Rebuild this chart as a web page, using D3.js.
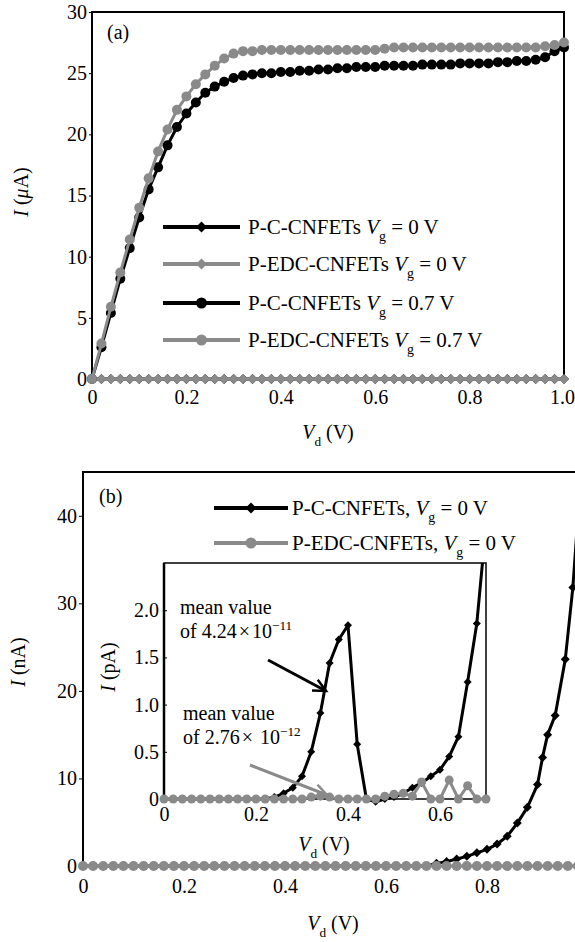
<!DOCTYPE html>
<html>
<head>
<meta charset="utf-8">
<script src="https://cdn.jsdelivr.net/npm/d3@7"></script>
<style>
  body { margin: 0; background: #fff; }
</style>
</head>
<body>
<div id="chart"></div>
<script>
let width = 575, height = 942;
const FONT = "'Liberation Serif','Times New Roman',serif";
const BLACK = "#000", GRAY = "#8a8a8a";

// ---------- data ----------
// panel (a): Vd grid 0..1.0 step 0.02
const aVd = d3.range(51).map(i => +(i * 0.02).toFixed(2));
const aC0 = [0,0,0,0,0,0,0,0,0,0,0,0,0,0,0,0,0,0,0,0,0,0,0,0,0,0,0,0,0,0,0,0,0,0,0,0,0,0,0,0,0,0,0,0,0,0,0,0,0,0,0];
const aE0 = [0,0,0,0,0,0,0,0,0,0,0,0,0,0,0,0,0,0,0,0,0,0,0,0,0,0,0,0,0,0,0,0,0,0,0,0,0,0,0,0,0,0,0,0,0,0,0,0,0,0,0];
const aC07 = [0, 2.6, 5.4, 8.2, 10.7, 13.2, 15.5, 17.3, 19.1, 20.6,
  21.7, 22.6, 23.4, 23.9, 24.3, 24.6, 24.8, 24.9, 25.0, 25.0,
  25.1, 25.1, 25.2, 25.2, 25.3, 25.3, 25.4, 25.4, 25.5, 25.5,
  25.5, 25.6, 25.6, 25.6, 25.6, 25.7, 25.7, 25.7, 25.7, 25.8,
  25.8, 25.8, 25.8, 25.9, 25.9, 26.0, 26.0, 26.1, 26.3, 26.8,
  27.1];
const aE07 = [0, 2.9, 5.9, 8.7, 11.4, 14.0, 16.4, 18.6, 20.4, 22.0,
  23.1, 24.1, 24.9, 25.6, 26.2, 26.6, 26.8, 26.8, 26.9, 26.9,
  26.9, 26.9, 26.9, 26.9, 26.9, 26.9, 26.9, 26.9, 26.9, 26.9,
  26.9, 27.0, 27.1, 27.1, 27.1, 27.1, 27.1, 27.1, 27.1, 27.1,
  27.1, 27.1, 27.1, 27.1, 27.1, 27.1, 27.1, 27.1, 27.2, 27.3,
  27.5];
const aXTicks = [0, 0.2, 0.4, 0.6, 0.8, 1.0];
const aYTicks = [0, 5, 10, 15, 20, 25, 30];
const aLegend = [
  {name: "P-C-CNFETs ", vg: "0 V", color: BLACK, shape: "diamond"},
  {name: "P-EDC-CNFETs ", vg: "0 V", color: GRAY, shape: "diamond"},
  {name: "P-C-CNFETs ", vg: "0.7 V", color: BLACK, shape: "circle"},
  {name: "P-EDC-CNFETs ", vg: "0.7 V", color: GRAY, shape: "circle"}
];

// panel (b): nA
const bVd = d3.range(50).map(i => +(i * 0.02).toFixed(2));
const bE0 = [0,0,0,0,0,0,0,0,0,0,0,0,0,0,0,0,0,0,0,0,0,0,0,0,0,0,0,0,0,0,0,0,0,0,0,0,0,0,0,0,0,0,0,0,0,0,0,0,0,0];
const bCVd = [0,0.02,0.04,0.06,0.08,0.10,0.12,0.14,0.16,0.18,0.20,0.22,0.24,0.26,0.28,0.30,0.32,0.34,
  0.36,0.38,0.40,0.42,0.44,0.46,0.48,0.50,0.52,0.54,0.56,0.58,0.60,0.62,0.64,0.66,0.68,
  0.70,0.72,0.74,0.76,0.78,0.80,0.82,0.84,0.86,0.88,0.90,0.91,0.92,0.935,0.955,0.97,0.985];
const bC0 = [0,0,0,0,0,0,0,0,0,0,0,0,0,0,0,0,0,0,0,0,0,0,0,0,0,0,0,0,0,0,0,0,0,0,0,
  0.3,0.5,0.8,1.1,1.5,1.9,2.5,3.4,4.9,6.7,9.3,12.4,15.0,17.2,23.6,31.8,44];
const bXTicks = [0, 0.2, 0.4, 0.6, 0.8];
const bYTicks = [0, 10, 20, 30, 40];
const bLegend = [
  {name: "P-C-CNFETs, ", vg: "0 V", color: BLACK, shape: "diamond"},
  {name: "P-EDC-CNFETs, ", vg: "0 V", color: GRAY, shape: "circle"}
];

// inset: pA, Vd 0..0.70 step 0.02
const iVd = d3.range(36).map(i => +(i * 0.02).toFixed(2));
const iC0 = [0,0,0,0,0,0,0,0,0,0,0,0,
  0.02,0.06,0.12,0.24,0.50,0.91,1.44,1.69,1.84,0.58,0.0,-0.03,
  0,0.02,0.06,0.12,0.17,0.24,0.31,0.45,0.66,1.24,1.86,2.9];
const iE0 = [0,0,0,0,0,0,0,0,0,0,0,0,0,0,0,0,
  0.02,0.03,0.02,0,0,0,0,0,0.03,0.05,0.06,0.03,0.18,0,0,0.20,0,0.14,0,0];
const iXTicks = [0, 0.2, 0.4, 0.6];
const iYTicks = [0, 0.5, 1.0, 1.5, 2.0];

// ---------- svg ----------
let svg = d3.select("#chart").append("svg")
  .attr("width", width).attr("height", height)
  .style("font-family", FONT);

let defs = svg.append("defs");

function fmt(v) { return v === 0 ? "0" : d3.format(".1f")(v); }

// text with italic / sub / sup / wide parts
function richText(parent, x, y, parts, size, anchor) {
  let t = parent.append("text")
    .attr("x", x).attr("y", y)
    .attr("text-anchor", anchor || "start")
    .style("font-size", size + "px")
    .attr("fill", "#000");
  let shift = 0;
  parts.forEach(p => {
    let s = t.append("tspan").text(p.t);
    let target = p.sub ? size * 0.33 : (p.sup ? -size * 0.38 : 0);
    if (target !== shift) { s.attr("dy", target - shift); shift = target; }
    if (p.sub || p.sup) s.style("font-size", (size * 0.66) + "px");
    if (p.wide) s.attr("dx", 2).style("letter-spacing", "2px");
    if (p.i) s.style("font-style", "italic");
  });
  return t;
}

function marker(g, shape, x, y, r, color) {
  if (shape == "circle") {
    g.append("circle").attr("cx", x).attr("cy", y).attr("r", r).attr("fill", color);
  } else {
    g.append("path")
      .attr("d", `M${x},${y - r}L${x + r},${y}L${x},${y + r}L${x - r},${y}Z`)
      .attr("fill", color);
  }
}

function series(g, xs, ys, xScale, yScale, color, shape, r, lw) {
  let pts = xs.map((x, i) => [xScale(x), yScale(ys[i])]);
  g.append("path")
    .attr("d", d3.line()(pts))
    .attr("fill", "none")
    .attr("stroke", color)
    .attr("stroke-width", lw)
    .attr("stroke-linejoin", "round");
  pts.forEach(p => marker(g, shape, p[0], p[1], r, color));
}

function legendRow(g, x1, x2, y, item, size, r, textX) {
  g.append("line").attr("x1", x1).attr("x2", x2).attr("y1", y).attr("y2", y)
    .attr("stroke", item.color).attr("stroke-width", 4);
  marker(g, item.shape, (x1 + x2) / 2, y, r, item.color);
  richText(g, textX, y + 7, [
    {t: item.name}, {t: "V", i: true}, {t: "g", sub: true}, {t: " = " + item.vg}
  ], size);
}

function styleTicks(a) {
  a.select(".domain").remove();
  a.selectAll("text").style("font-size", "20px").style("font-family", FONT).attr("fill", "#000");
}

// ================= panel (a) =================
let xa = d3.scaleLinear([0, 1], [92, 564]);
let ya = d3.scaleLinear([0, 30], [379, 12]);
let ga = svg.append("g").attr("id", "panel-a");

defs.append("clipPath").attr("id", "clipA")
  .append("rect").attr("x", 80).attr("y", 0).attr("width", 495).attr("height", 392);

ga.append("g").attr("transform", "translate(92,0)")
  .call(d3.axisLeft(ya).tickValues(aYTicks).tickSize(3).tickPadding(2).tickFormat(d3.format("d")))
  .call(styleTicks);
ga.append("g").attr("transform", "translate(0,379)")
  .call(d3.axisBottom(xa).tickValues(aXTicks).tickSize(0).tickPadding(11).tickFormat(fmt))
  .call(styleTicks)
  .call(a => a.selectAll("text").filter(d => d === 1).attr("dx", -2));

ga.append("rect").attr("x", 92).attr("y", 12).attr("width", 472).attr("height", 367)
  .attr("fill", "none").attr("stroke", "#000").attr("stroke-width", 2);

let da = ga.append("g").attr("clip-path", "url(#clipA)");
series(da, aVd, aC0, xa, ya, BLACK, "diamond", 5, 3);
series(da, aVd, aE0, xa, ya, GRAY, "diamond", 5, 3);
series(da, aVd, aC07, xa, ya, BLACK, "circle", 5, 3);
series(da, aVd, aE07, xa, ya, GRAY, "circle", 5, 3);

richText(ga, 107, 39, [{t: "(a)"}], 20);

let la = ga.append("g");
aLegend.forEach((d, i) => legendRow(la, 163, 240, [227, 264, 303, 340][i], d, 21, 5.5, 248));

richText(ga, 328, 439, [{t: "V", i: true}, {t: "d", sub: true}, {t: " (V)"}], 20, "middle");
richText(ga.append("g").attr("transform", "translate(28,192) rotate(-90)"), 0, 0,
  [{t: "I", i: true}, {t: " ("}, {t: "μ", i: true}, {t: "A)"}], 20, "middle");

// ================= panel (b) =================
let xb = d3.scaleLinear([0, 1], [83, 588]);
let yb = d3.scaleLinear([0, 45], [866, 472]);
let gb = svg.append("g").attr("id", "panel-b");

defs.append("clipPath").attr("id", "clipB")
  .append("rect").attr("x", 70).attr("y", 472).attr("width", 505).attr("height", 410);

gb.append("g").attr("transform", "translate(83,0)")
  .call(d3.axisLeft(yb).tickValues(bYTicks).tickSize(4).tickPadding(2).tickFormat(d3.format("d")))
  .call(styleTicks);
gb.append("g").attr("transform", "translate(0,866)")
  .call(d3.axisBottom(xb).tickValues(bXTicks).tickSize(0).tickPadding(13).tickFormat(fmt))
  .call(styleTicks);

gb.append("path").attr("d", "M83,866V472H576")
  .attr("fill", "none").attr("stroke", "#000").attr("stroke-width", 2);

let db = gb.append("g").attr("clip-path", "url(#clipB)");
series(db, bCVd, bC0, xb, yb, BLACK, "diamond", 4.5, 3);
series(db, bVd, bE0, xb, yb, GRAY, "circle", 5, 3);

richText(gb, 99, 503, [{t: "(b)"}], 20);

let lb = gb.append("g");
bLegend.forEach((d, i) => legendRow(lb, 214, 288, [508, 543][i], d, 21, 5.5, 292));

richText(gb, 333, 930, [{t: "V", i: true}, {t: "d", sub: true}, {t: " (V)"}], 20, "middle");
richText(gb.append("g").attr("transform", "translate(25,662) rotate(-90)"), 0, 0,
  [{t: "I", i: true}, {t: " (nA)"}], 20, "middle");

// ---------- inset ----------
let xi = d3.scaleLinear([0, 0.7], [164, 486]);
let yi = d3.scaleLinear([0, 2.5], [799, 563]);
let gi = gb.append("g").attr("id", "inset");

defs.append("clipPath").attr("id", "clipI")
  .append("rect").attr("x", 158).attr("y", 563).attr("width", 334).attr("height", 246);

gi.append("rect").attr("x", 164).attr("y", 563).attr("width", 322).attr("height", 236)
  .attr("fill", "#fff").attr("stroke", "#000").attr("stroke-width", 1.5);
gi.append("line").attr("x1", 164).attr("x2", 164).attr("y1", 563).attr("y2", 799)
  .attr("stroke", "#000").attr("stroke-width", 2.5);

gi.append("g").attr("transform", "translate(164,0)")
  .call(d3.axisLeft(yi).tickValues(iYTicks).tickSize(-3).tickPadding(5).tickFormat(fmt))
  .call(styleTicks);
gi.append("g").attr("transform", "translate(0,799)")
  .call(d3.axisBottom(xi).tickValues(iXTicks).tickSize(0).tickPadding(8).tickFormat(fmt))
  .call(styleTicks);

let di = gi.append("g").attr("clip-path", "url(#clipI)");
series(di, iVd, iC0, xi, yi, BLACK, "diamond", 4, 3);
series(di, iVd, iE0, xi, yi, GRAY, "circle", 4.5, 3);

richText(gi, 180, 614, [{t: "mean value"}], 20);
richText(gi, 180, 638, [{t: "of 4.24"}, {t: "×", wide: true}, {t: "10"}, {t: "−11", sup: true}], 20);
richText(gi, 183, 720, [{t: "mean value"}], 20);
richText(gi, 183, 744, [{t: "of 2.76"}, {t: "×", wide: true}, {t: " 10"}, {t: "−12", sup: true}], 20);

function arrow(g, x1, y1, x2, y2, color) {
  g.append("line").attr("x1", x1).attr("y1", y1).attr("x2", x2).attr("y2", y2)
    .attr("stroke", color).attr("stroke-width", 3);
  let ang = Math.atan2(y2 - y1, x2 - x1), L = 14, w = 0.45;
  let p1 = [x2 - L * Math.cos(ang - w), y2 - L * Math.sin(ang - w)];
  let p2 = [x2 - L * Math.cos(ang + w), y2 - L * Math.sin(ang + w)];
  g.append("path").attr("d", `M${p1}L${x2},${y2}L${p2}`)
    .attr("fill", "none").attr("stroke", color).attr("stroke-width", 2.5);
}
arrow(gi, 268, 660, 326, 691, BLACK);
arrow(gi, 250, 765, 327, 795, GRAY);

richText(gi, 324, 851, [{t: "V", i: true}, {t: "d", sub: true}, {t: " (V)"}], 20, "middle");
richText(gi.append("g").attr("transform", "translate(115,667) rotate(-90)"), 0, 0,
  [{t: "I", i: true}, {t: " (pA)"}], 20, "middle");
</script>
</body>
</html>
